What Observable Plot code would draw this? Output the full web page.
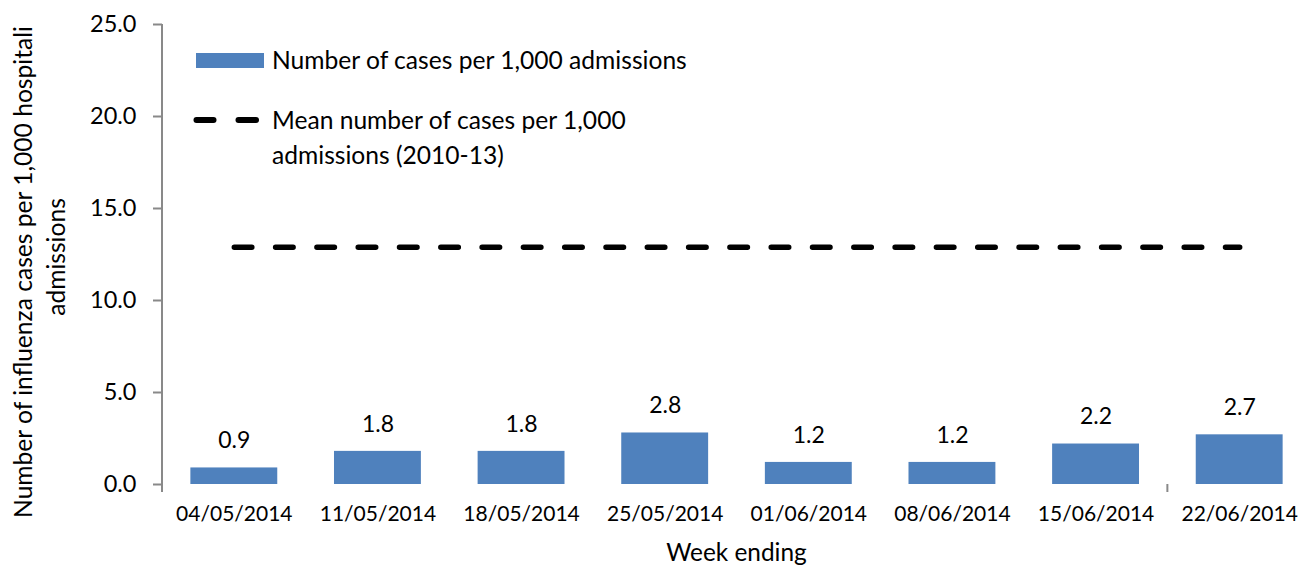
<!DOCTYPE html>
<html><head><meta charset="utf-8">
<script src="https://cdn.jsdelivr.net/npm/d3@7"></script>
<script src="https://cdn.jsdelivr.net/npm/@observablehq/plot@0.6"></script>
<style>
body{margin:0;background:#fff;}
#wrap{position:relative;width:1304px;height:565px;overflow:hidden;font-family:Lato,sans-serif;color:#000;}
.legtext{position:absolute;font-size:24.6px;line-height:35px;white-space:nowrap;}
</style></head><body><div id="wrap"></div>
<script>
// ---- data ----
const weeks = ["04/05/2014","11/05/2014","18/05/2014","25/05/2014","01/06/2014","08/06/2014","15/06/2014","22/06/2014"];
const cases = [0.9, 1.8, 1.8, 2.8, 1.2, 1.2, 2.2, 2.7];
const meanCases = [12.9, 12.9, 12.9, 12.9, 12.9, 12.9, 12.9, 12.9];
const yTicks = [0, 5, 10, 15, 20, 25];
const yTitleLines = ["Number of influenza cases per 1,000 hospitali", "admissions"];
const xTitle = "Week ending";
const seriesNames = ["Number of cases per 1,000 admissions", "Mean number of cases per 1,000", "admissions (2010-13)"];

const rows = weeks.map((w, i) => ({week: w, cases: cases[i], mean: meanCases[i]}));

const W = 1304, H = 565;
const BLUE = "#4F81BD", AXIS = "#898989";

const chart = Plot.plot({
  width: W, height: H,
  marginLeft: 162, marginTop: 24, marginBottom: 81, marginRight: 0,
  style: {fontFamily: "Lato, sans-serif", color: "#000", background: "#fff", overflow: "visible"},
  x: {domain: weeks, range: [162, 1311], paddingInner: 0.395, paddingOuter: 0.1975, round: false},
  y: {domain: [0, 25]},
  marks: [
    Plot.barY(rows, {x: "week", y: "cases", fill: BLUE}),
    Plot.text(rows, {x: "week", y: "cases", text: d => d.cases.toFixed(1), dy: -27, lineAnchor: "middle", fontSize: 23, fill: "#000"}),
    Plot.line(rows, {x: "week", y: "mean", stroke: "#000", strokeWidth: 5.5, strokeDasharray: "17.5,23.8", strokeLinecap: "round"}),
    Plot.ruleY([0], {x1: 153, x2: W, stroke: AXIS, strokeWidth: 2}),
    Plot.axisY({ticks: yTicks, tickFormat: d => d.toFixed(1), tickSize: 9, tickPadding: 17, fontSize: 23.5, stroke: AXIS, strokeWidth: 2, label: null, strokeOpacity: 1}),
    Plot.axisX({tickSize: 0, tickPadding: 22, fontSize: 21, label: null})
  ]
});

const svg = d3.select(chart);
const xs = chart.scale("x"), ys = chart.scale("y");
const y0 = ys.apply(0), y25 = ys.apply(25);
// vertical axis line
svg.append("line").attr("x1", 162).attr("x2", 162).attr("y1", y25).attr("y2", y0)
  .attr("stroke", AXIS).attr("stroke-width", 2);
// category-boundary tick marks (interval of 7 categories)
[0, 7].forEach(i => {
  const bx = xs.apply(weeks[i]) - (xs.step - xs.bandwidth) / 2;
  svg.append("line").attr("x1", bx).attr("x2", bx).attr("y1", y0).attr("y2", y0 + 8)
    .attr("stroke", AXIS).attr("stroke-width", 2);
});
// y title (two lines)
const yCenters = [272, 257];
yTitleLines.forEach((t, i) => {
  svg.append("text").attr("transform", `translate(${32 + i * 33},${yCenters[i]}) rotate(-90)`)
    .attr("text-anchor", "middle").attr("font-size", 24.6).attr("fill", "#000").text(t);
});
// x title
svg.append("text").attr("x", (162 + 1311) / 2).attr("y", 561).attr("text-anchor", "middle")
  .attr("font-size", 24.4).attr("fill", "#000").text(xTitle);

const wrap = document.getElementById("wrap");
wrap.appendChild(chart);

// legend overlay
const leg = document.createElement("div");
leg.innerHTML = `
<div style="position:absolute;left:196px;top:53px;width:68px;height:15px;background:${BLUE}"></div>
<div class="legtext" style="left:272px;top:42px">${seriesNames[0]}</div>
<svg style="position:absolute;left:190px;top:110px" width="76" height="20">
  <line x1="6.5" x2="23.5" y1="10" y2="10" stroke="#000" stroke-width="6" stroke-linecap="round"/>
  <line x1="48.5" x2="66" y1="10" y2="10" stroke="#000" stroke-width="6" stroke-linecap="round"/>
</svg>
<div class="legtext" style="left:272px;top:102px">${seriesNames[1]}<br>${seriesNames[2]}</div>`;
wrap.appendChild(leg);
</script></body></html>
